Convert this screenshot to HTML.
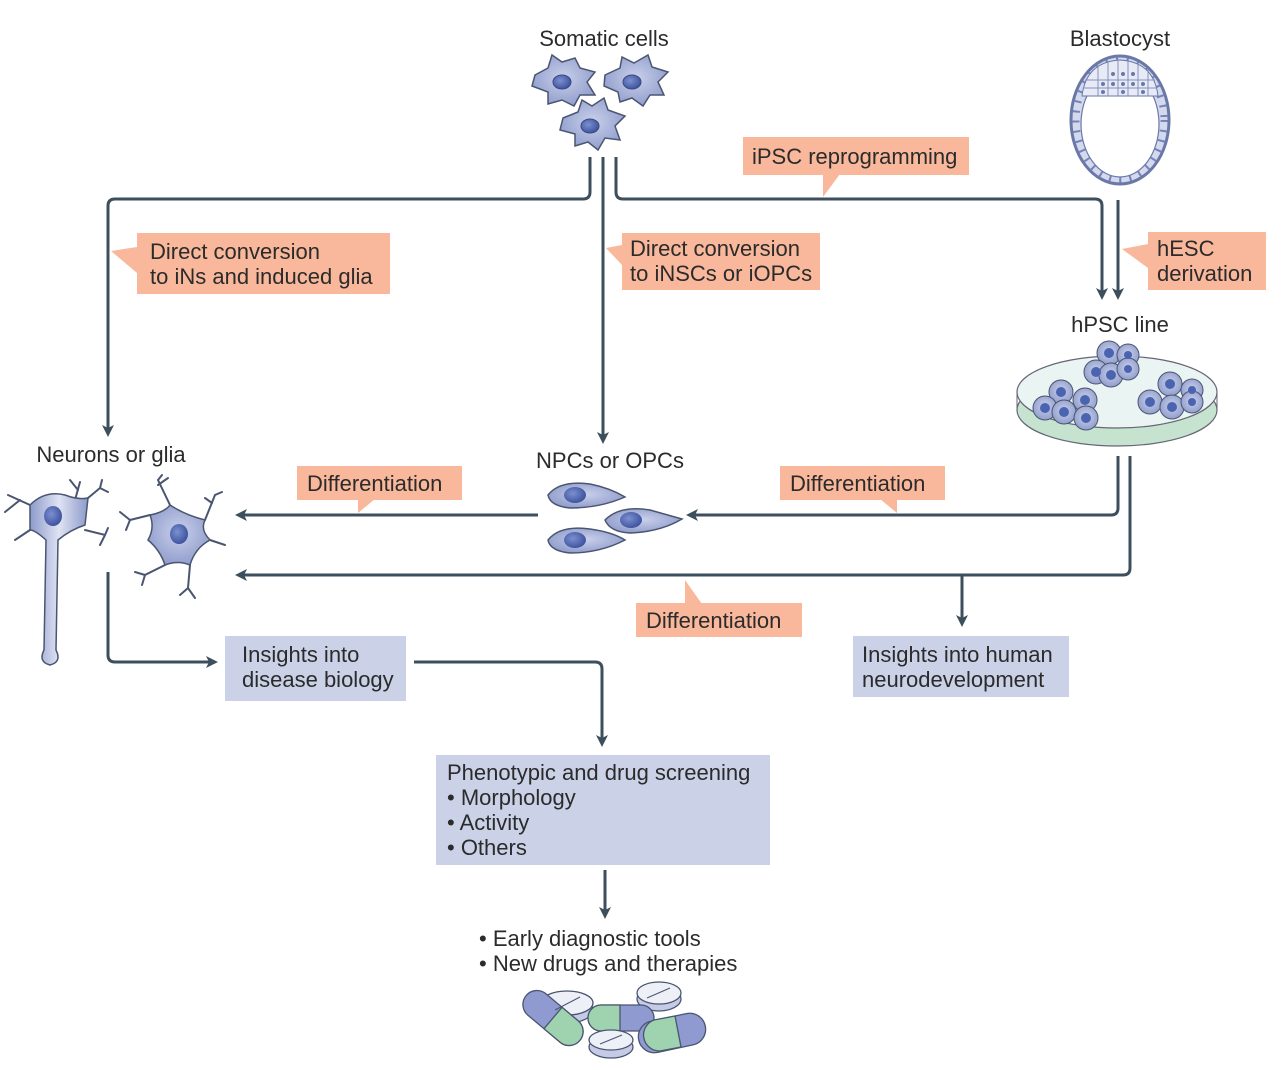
<!DOCTYPE html>
<html><head><meta charset="utf-8"><style>
html,body{margin:0;padding:0;background:#fff;}
svg{display:block;}
text{font-family:"Liberation Sans",sans-serif;font-size:22px;fill:#2b2b2b;}
</style></head><body>
<svg width="1283" height="1070" viewBox="0 0 1283 1070" xmlns="http://www.w3.org/2000/svg">
<defs>
<marker id="a" markerWidth="12" markerHeight="12" refX="9" refY="6" orient="auto" markerUnits="userSpaceOnUse">
<path d="M0,0 L12,6 L0,12 L3,6 Z" fill="#3d4f5c"/></marker>
<radialGradient id="cg" cx="50%" cy="45%" r="60%"><stop offset="0" stop-color="#c9d0ea"/><stop offset="1" stop-color="#8d9acb"/></radialGradient>
<radialGradient id="ng" cx="40%" cy="40%" r="60%"><stop offset="0" stop-color="#7c8fd0"/><stop offset="1" stop-color="#3f55a0"/></radialGradient>
<linearGradient id="ax" x1="0" x2="1"><stop offset="0" stop-color="#8d9acb"/><stop offset=".5" stop-color="#dfe3f3"/><stop offset="1" stop-color="#8d9acb"/></linearGradient>
</defs>
<g fill="none" stroke="#3d4f5c" stroke-width="3">
<path d="M590,157 V192 Q590,199 583,199 H115 Q108,199 108,206 V434" marker-end="url(#a)"/>
<path d="M603,157 V441" marker-end="url(#a)"/>
<path d="M616,157 V192 Q616,199 623,199 H1095 Q1102,199 1102,206 V297" marker-end="url(#a)"/>
<path d="M1118,200 V297" marker-end="url(#a)"/>
<path d="M1118,456 V508 Q1118,515 1111,515 H689" marker-end="url(#a)"/>
<path d="M538,515 H238" marker-end="url(#a)"/>
<path d="M1130,456 V568 Q1130,575 1123,575 H238" marker-end="url(#a)"/>
<path d="M962,575 V624" marker-end="url(#a)"/>
<path d="M108,572 V655 Q108,662 115,662 H215" marker-end="url(#a)"/>
<path d="M414,662 H595 Q602,662 602,669 V744" marker-end="url(#a)"/>
<path d="M605,870 V916" marker-end="url(#a)"/>
</g>
<g fill="#f9b89b">
<rect x="743" y="137" width="226" height="38"/><polygon points="823,174 840,174 823,197"/>
<rect x="137" y="233" width="253" height="61"/><polygon points="137,247 111,251 137,273"/>
<rect x="622" y="233" width="198" height="57"/><polygon points="622,245 606,248 622,265"/>
<rect x="1148" y="232" width="118" height="58"/><polygon points="1148,244 1122,249 1148,268"/>
<rect x="297" y="466" width="165" height="34"/><polygon points="358,499 375,499 358,513"/>
<rect x="780" y="466" width="165" height="34"/><polygon points="880,499 897,499 897,513"/>
<rect x="636" y="603" width="166" height="34"/><polygon points="685,604 702,604 685,580"/>
</g>
<g fill="#cbd2e8">
<rect x="225" y="636" width="181" height="65"/>
<rect x="853" y="636" width="216" height="61"/>
<rect x="436" y="755" width="334" height="110"/>
</g>
<text x="604" y="46" text-anchor="middle">Somatic cells</text>
<text x="1120" y="46" text-anchor="middle">Blastocyst</text>
<text x="752" y="164">iPSC reprogramming</text>
<text x="150" y="259">Direct conversion</text>
<text x="150" y="284">to iNs and induced glia</text>
<text x="630" y="256">Direct conversion</text>
<text x="630" y="281">to iNSCs or iOPCs</text>
<text x="1157" y="256">hESC</text>
<text x="1157" y="281">derivation</text>
<text x="1120" y="332" text-anchor="middle">hPSC line</text>
<text x="111" y="462" text-anchor="middle">Neurons or glia</text>
<text x="610" y="468" text-anchor="middle">NPCs or OPCs</text>
<text x="307" y="491">Differentiation</text>
<text x="790" y="491">Differentiation</text>
<text x="646" y="628">Differentiation</text>
<text x="242" y="662">Insights into</text>
<text x="242" y="687">disease biology</text>
<text x="862" y="662">Insights into human</text>
<text x="862" y="687">neurodevelopment</text>
<text x="447" y="780">Phenotypic and drug screening</text>
<text x="447" y="805">• Morphology</text>
<text x="447" y="830">• Activity</text>
<text x="447" y="855">• Others</text>
<text x="479" y="946">• Early diagnostic tools</text>
<text x="479" y="971">• New drugs and therapies</text>
<g stroke="#4a5570" stroke-width="1.5" fill="url(#cg)">
<path d="M535,75 L548,68 L552,55 L562,62 L575,58 L580,68 L595,72 L587,82 L595,95 L580,95 L574,106 L562,100 L548,104 L548,92 L532,86 Z"/>
<path d="M605,75 L620,68 L622,57 L634,63 L648,55 L652,67 L668,72 L658,82 L664,95 L650,95 L643,106 L632,98 L620,102 L618,92 L604,86 Z"/>
<path d="M563,118 L578,112 L582,100 L592,106 L604,98 L608,110 L625,116 L615,126 L620,140 L605,138 L598,150 L588,142 L575,146 L575,134 L560,130 Z"/>
</g>
<g fill="url(#ng)" stroke="#3a4a80" stroke-width="1"><ellipse cx="562" cy="82" rx="9" ry="7"/><ellipse cx="632" cy="82" rx="9" ry="7"/><ellipse cx="590" cy="126" rx="9" ry="7"/></g>
<!-- blastocyst -->
<ellipse cx="1120" cy="120" rx="49" ry="64" fill="#d4d9ee" stroke="#6a78a8" stroke-width="3"/>
<ellipse cx="1120" cy="120" rx="44" ry="59" fill="none" stroke="#7483b8" stroke-width="7" stroke-dasharray="2 8"/>
<ellipse cx="1120" cy="124" rx="39" ry="53" fill="#fff" stroke="#6a78a8" stroke-width="1.2"/>
<path d="M1082,96 Q1086,62 1120,60 Q1154,62 1158,96 Z" fill="#e8ebf6" stroke="#6a78a8" stroke-width="1"/>
<g stroke="#8390c0" stroke-width="1" fill="none"><path d="M1085,80 H1155 M1083,88 H1157 M1098,66 V96 M1108,62 V96 M1118,61 V96 M1128,61 V96 M1138,63 V96 M1148,70 V96"/></g>
<g fill="#6a78a8"><circle cx="1103" cy="84" r="2"/><circle cx="1113" cy="84" r="2"/><circle cx="1123" cy="84" r="2"/><circle cx="1133" cy="84" r="2"/><circle cx="1143" cy="84" r="2"/><circle cx="1113" cy="74" r="2"/><circle cx="1123" cy="74" r="2"/><circle cx="1133" cy="74" r="2"/><circle cx="1103" cy="92" r="2"/><circle cx="1123" cy="92" r="2"/><circle cx="1143" cy="92" r="2"/></g>
<!-- dish -->
<ellipse cx="1117" cy="410" rx="100" ry="36" fill="#c5e3cf" stroke="#667" stroke-width="1.2"/>
<ellipse cx="1117" cy="392" rx="100" ry="36" fill="#eaf4f3" stroke="#667" stroke-width="1.2"/>
<path d="M1017,392 V410 M1217,392 V410" stroke="#667"/>
<g fill="url(#cg)" stroke="#4a5570" stroke-width="1">
<circle cx="1109" cy="353" r="12"/><circle cx="1128" cy="355" r="11"/><circle cx="1096" cy="372" r="12"/><circle cx="1111" cy="375" r="12"/><circle cx="1128" cy="369" r="11"/>
<circle cx="1061" cy="392" r="12"/><circle cx="1085" cy="400" r="12"/><circle cx="1045" cy="408" r="12"/><circle cx="1064" cy="412" r="12"/><circle cx="1086" cy="418" r="12"/>
<circle cx="1170" cy="384" r="12"/><circle cx="1192" cy="390" r="11"/><circle cx="1150" cy="402" r="12"/><circle cx="1172" cy="407" r="12"/><circle cx="1192" cy="402" r="11"/>
</g>
<g fill="#4a64b0"><circle cx="1109" cy="353" r="5"/><circle cx="1128" cy="355" r="4"/><circle cx="1096" cy="372" r="5"/><circle cx="1111" cy="375" r="5"/><circle cx="1128" cy="369" r="4"/><circle cx="1061" cy="392" r="5"/><circle cx="1085" cy="400" r="5"/><circle cx="1045" cy="408" r="5"/><circle cx="1064" cy="412" r="5"/><circle cx="1086" cy="418" r="5"/><circle cx="1170" cy="384" r="5"/><circle cx="1192" cy="390" r="4"/><circle cx="1150" cy="402" r="5"/><circle cx="1172" cy="407" r="5"/><circle cx="1192" cy="402" r="4"/></g>
<g stroke="#4a5570" stroke-width="1.5" fill="url(#cg)">
<path d="M548,495 Q560,480 590,484 Q610,488 625,497 Q600,508 570,508 Q550,506 548,495 Z"/>
<path d="M605,520 Q620,505 650,510 Q668,515 682,519 Q660,532 630,533 Q610,532 605,520 Z"/>
<path d="M548,540 Q560,525 590,529 Q612,532 625,540 Q600,553 570,553 Q550,551 548,540 Z"/>
</g>
<g fill="url(#ng)"><ellipse cx="575" cy="495" rx="11" ry="8"/><ellipse cx="631" cy="520" rx="11" ry="8"/><ellipse cx="575" cy="540" rx="11" ry="8"/></g>
<g stroke="#4a5570" stroke-width="2" fill="none" stroke-linecap="round">
<path d="M30,505 L8,495 M20,500 L5,512 M75,500 L80,482 M78,490 L70,480 M88,498 L100,488 L108,492 M100,488 L102,480 M85,530 L105,535 L108,528 M105,535 L100,545 M30,530 L15,540"/>
<path d="M150,515 L130,520 L120,512 M130,520 L126,530 M170,505 L158,480 L162,475 M158,485 L168,478 M205,520 L215,495 L222,492 M212,503 L205,498 M210,540 L225,545 M165,565 L145,575 L142,585 M145,575 L135,572 M190,565 L188,588 L180,595 M188,588 L195,598"/>
</g>
<path d="M30,505 Q45,490 65,495 Q78,500 88,498 L85,525 Q70,530 58,540 L56,650 Q62,662 50,665 Q38,662 44,650 L46,540 Q35,530 30,530 Z" fill="url(#ax)" stroke="#4a5570" stroke-width="1.5"/>
<path d="M150,515 Q165,512 170,505 Q185,515 205,520 Q200,530 210,540 Q195,548 190,565 Q178,560 165,565 Q160,550 148,540 Q155,528 150,515 Z" fill="url(#cg)" stroke="#4a5570" stroke-width="1.5"/>
<ellipse cx="53" cy="516" rx="9" ry="10" fill="url(#ng)"/>
<ellipse cx="179" cy="534" rx="9" ry="10" fill="url(#ng)"/>
<!-- pills -->
<g stroke="#4a5570" stroke-width="1.3">
<ellipse cx="567" cy="1010" rx="26" ry="13" fill="#c5cbe6"/><ellipse cx="567" cy="1003" rx="26" ry="12" fill="#eef0f8"/>
<ellipse cx="659" cy="999" rx="22" ry="12" fill="#c5cbe6"/><ellipse cx="659" cy="993" rx="22" ry="11" fill="#eef0f8"/>
<g transform="rotate(40 553 1018)">
<rect x="518" y="1004" width="70" height="28" rx="14" fill="#8e9ad0"/>
<path d="M553,1004 H574 A14,14 0 0 1 574,1032 H553 Z" fill="#9fd3b0"/>
</g>
<rect x="588" y="1005" width="66" height="26" rx="13" fill="#8e9ad0"/><path d="M601,1005 H620 V1031 H601 A13,13 0 0 1 601,1005 Z" fill="#9fd3b0"/>
<ellipse cx="611" cy="1047" rx="22" ry="11" fill="#c5cbe6"/><ellipse cx="611" cy="1040" rx="22" ry="10" fill="#eef0f8"/>
<rect x="638" y="1017" width="68" height="32" rx="16" transform="rotate(-12 672 1033)" fill="#8e9ad0"/>
<path d="M654,1020 L675,1016 L681,1047 L660,1051 A16,16 0 0 1 654,1020 Z" fill="#9fd3b0"/>
</g>
<g stroke="#4a5570" stroke-width="1"><path d="M555,1010 L580,997 M647,998 L670,988 M600,1044 L622,1035"/></g>
</svg>
</body></html>
